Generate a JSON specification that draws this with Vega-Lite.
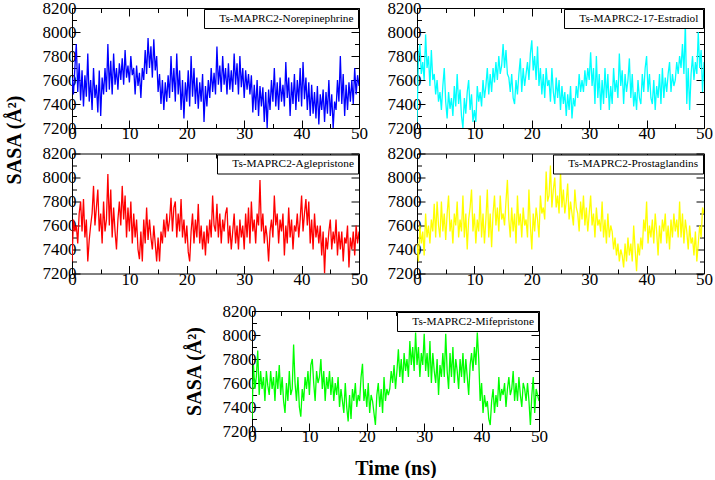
{
"$schema":"https://vega.github.io/schema/vega-lite/v6.json",
"padding":{"left":4,"top":-1,"right":0,"bottom":0},
"background":"white",
"config":{
 "view":{"stroke":null},
 "line":{"strokeWidth":1.3},
 "axis":{"labelFont":"Liberation Serif","labelFontSize":17,"labelColor":"#000","tickColor":"#000","domainColor":"#000","tickWidth":1,"domainWidth":1,"grid":false,"titleFont":"Liberation Serif","titleFontSize":20,"titleFontWeight":"bold","titleColor":"#000","labelFlush":false,"labelOverlap":false,"labelBound":false,"labelPadding":4},
 "axisBottom":{"labelPadding":5.5},
 "legend":{"labelFont":"Liberation Serif","labelFontSize":11.3,"labelColor":"#000","strokeColor":"#000","fillColor":"#fff","strokeWidth":1,"padding":4,"orient":"top-right","offset":1,"symbolSize":0,"symbolOpacity":0,"symbolStrokeWidth":0,"labelOffset":0,"labelLimit":0,"cornerRadius":0}
},
"datasets":{
"a":[{"t":0,"v":7620},{"t":0.25,"v":7480},{"t":0.5,"v":7700},{"t":0.75,"v":7900},{"t":1,"v":7500},{"t":1.25,"v":7740},{"t":1.5,"v":7430},{"t":1.75,"v":7680},{"t":2,"v":7380},{"t":2.25,"v":7640},{"t":2.5,"v":7460},{"t":2.75,"v":7820},{"t":3,"v":7420},{"t":3.25,"v":7600},{"t":3.5,"v":7350},{"t":3.75,"v":7700},{"t":4,"v":7450},{"t":4.25,"v":7560},{"t":4.5,"v":7330},{"t":4.75,"v":7680},{"t":5,"v":7300},{"t":5.25,"v":7620},{"t":5.5,"v":7480},{"t":5.75,"v":7700},{"t":6,"v":7500},{"t":6.25,"v":7900},{"t":6.5,"v":7520},{"t":6.75,"v":7760},{"t":7,"v":7480},{"t":7.25,"v":7820},{"t":7.5,"v":7560},{"t":7.75,"v":7700},{"t":8,"v":7520},{"t":8.25,"v":7740},{"t":8.5,"v":7600},{"t":8.75,"v":7780},{"t":9,"v":7560},{"t":9.25,"v":7850},{"t":9.5,"v":7620},{"t":9.75,"v":7720},{"t":10,"v":7580},{"t":10.25,"v":7800},{"t":10.5,"v":7640},{"t":10.75,"v":7700},{"t":11,"v":7480},{"t":11.25,"v":7720},{"t":11.5,"v":7550},{"t":11.75,"v":7660},{"t":12,"v":7450},{"t":12.25,"v":7700},{"t":12.5,"v":7600},{"t":12.75,"v":7850},{"t":13,"v":7650},{"t":13.25,"v":7950},{"t":13.5,"v":7700},{"t":13.75,"v":7880},{"t":14,"v":7620},{"t":14.25,"v":7940},{"t":14.5,"v":7680},{"t":14.75,"v":7800},{"t":15,"v":7500},{"t":15.25,"v":7650},{"t":15.5,"v":7400},{"t":15.75,"v":7600},{"t":16,"v":7350},{"t":16.25,"v":7580},{"t":16.5,"v":7420},{"t":16.75,"v":7640},{"t":17,"v":7450},{"t":17.25,"v":7800},{"t":17.5,"v":7500},{"t":17.75,"v":7700},{"t":18,"v":7420},{"t":18.25,"v":7820},{"t":18.5,"v":7480},{"t":18.75,"v":7680},{"t":19,"v":7350},{"t":19.25,"v":7600},{"t":19.5,"v":7280},{"t":19.75,"v":7580},{"t":20,"v":7420},{"t":20.25,"v":7680},{"t":20.5,"v":7380},{"t":20.75,"v":7800},{"t":21,"v":7460},{"t":21.25,"v":7700},{"t":21.5,"v":7400},{"t":21.75,"v":7620},{"t":22,"v":7360},{"t":22.25,"v":7580},{"t":22.5,"v":7420},{"t":22.75,"v":7650},{"t":23,"v":7250},{"t":23.25,"v":7550},{"t":23.5,"v":7380},{"t":23.75,"v":7600},{"t":24,"v":7450},{"t":24.25,"v":7700},{"t":24.5,"v":7500},{"t":24.75,"v":7660},{"t":25,"v":7480},{"t":25.25,"v":7880},{"t":25.5,"v":7560},{"t":25.75,"v":7720},{"t":26,"v":7500},{"t":26.25,"v":7800},{"t":26.5,"v":7560},{"t":26.75,"v":7700},{"t":27,"v":7480},{"t":27.25,"v":7740},{"t":27.5,"v":7520},{"t":27.75,"v":7680},{"t":28,"v":7500},{"t":28.25,"v":7820},{"t":28.5,"v":7560},{"t":28.75,"v":7740},{"t":29,"v":7480},{"t":29.25,"v":7800},{"t":29.5,"v":7540},{"t":29.75,"v":7700},{"t":30,"v":7450},{"t":30.25,"v":7680},{"t":30.5,"v":7520},{"t":30.75,"v":7650},{"t":31,"v":7480},{"t":31.25,"v":7640},{"t":31.5,"v":7330},{"t":31.75,"v":7560},{"t":32,"v":7350},{"t":32.25,"v":7600},{"t":32.5,"v":7300},{"t":32.75,"v":7550},{"t":33,"v":7380},{"t":33.25,"v":7540},{"t":33.5,"v":7250},{"t":33.75,"v":7500},{"t":34,"v":7200},{"t":34.25,"v":7520},{"t":34.5,"v":7350},{"t":34.75,"v":7600},{"t":35,"v":7420},{"t":35.25,"v":7700},{"t":35.5,"v":7380},{"t":35.75,"v":7580},{"t":36,"v":7350},{"t":36.25,"v":7620},{"t":36.5,"v":7420},{"t":36.75,"v":7560},{"t":37,"v":7380},{"t":37.25,"v":7750},{"t":37.5,"v":7450},{"t":37.75,"v":7620},{"t":38,"v":7300},{"t":38.25,"v":7580},{"t":38.5,"v":7400},{"t":38.75,"v":7650},{"t":39,"v":7350},{"t":39.25,"v":7600},{"t":39.5,"v":7420},{"t":39.75,"v":7700},{"t":40,"v":7380},{"t":40.25,"v":7750},{"t":40.5,"v":7440},{"t":40.75,"v":7620},{"t":41,"v":7350},{"t":41.25,"v":7580},{"t":41.5,"v":7300},{"t":41.75,"v":7560},{"t":42,"v":7320},{"t":42.25,"v":7500},{"t":42.5,"v":7280},{"t":42.75,"v":7550},{"t":43,"v":7230},{"t":43.25,"v":7480},{"t":43.5,"v":7350},{"t":43.75,"v":7520},{"t":44,"v":7250},{"t":44.25,"v":7500},{"t":44.5,"v":7320},{"t":44.75,"v":7600},{"t":45,"v":7300},{"t":45.25,"v":7480},{"t":45.5,"v":7200},{"t":45.75,"v":7420},{"t":46,"v":7350},{"t":46.25,"v":7600},{"t":46.5,"v":7420},{"t":46.75,"v":7800},{"t":47,"v":7400},{"t":47.25,"v":7650},{"t":47.5,"v":7300},{"t":47.75,"v":7560},{"t":48,"v":7350},{"t":48.25,"v":7580},{"t":48.5,"v":7420},{"t":48.75,"v":7600},{"t":49,"v":7400},{"t":49.25,"v":7700},{"t":49.5,"v":7480},{"t":49.75,"v":7640},{"t":50,"v":7550}],
"b":[{"t":0,"v":7250},{"t":0.25,"v":7800},{"t":0.5,"v":7900},{"t":0.75,"v":7650},{"t":1,"v":7750},{"t":1.25,"v":7600},{"t":1.5,"v":7980},{"t":1.75,"v":7700},{"t":2,"v":7800},{"t":2.25,"v":7550},{"t":2.5,"v":7850},{"t":2.75,"v":7600},{"t":3,"v":7650},{"t":3.25,"v":7480},{"t":3.5,"v":7600},{"t":3.75,"v":7420},{"t":4,"v":7500},{"t":4.25,"v":7350},{"t":4.5,"v":7550},{"t":4.75,"v":7700},{"t":5,"v":7420},{"t":5.25,"v":7280},{"t":5.5,"v":7500},{"t":5.75,"v":7360},{"t":6,"v":7450},{"t":6.25,"v":7300},{"t":6.5,"v":7550},{"t":6.75,"v":7380},{"t":7,"v":7650},{"t":7.25,"v":7400},{"t":7.5,"v":7520},{"t":7.75,"v":7300},{"t":8,"v":7200},{"t":8.25,"v":7450},{"t":8.5,"v":7320},{"t":8.75,"v":7500},{"t":9,"v":7600},{"t":9.25,"v":7350},{"t":9.5,"v":7480},{"t":9.75,"v":7250},{"t":10,"v":7350},{"t":10.25,"v":7250},{"t":10.5,"v":7550},{"t":10.75,"v":7420},{"t":11,"v":7500},{"t":11.25,"v":7380},{"t":11.5,"v":7600},{"t":11.75,"v":7450},{"t":12,"v":7550},{"t":12.25,"v":7700},{"t":12.5,"v":7480},{"t":12.75,"v":7650},{"t":13,"v":7500},{"t":13.25,"v":7700},{"t":13.5,"v":7580},{"t":13.75,"v":7750},{"t":14,"v":7600},{"t":14.25,"v":7800},{"t":14.5,"v":7650},{"t":14.75,"v":7720},{"t":15,"v":7900},{"t":15.25,"v":7700},{"t":15.5,"v":7850},{"t":15.75,"v":7650},{"t":16,"v":7620},{"t":16.25,"v":7500},{"t":16.5,"v":7650},{"t":16.75,"v":7450},{"t":17,"v":7400},{"t":17.25,"v":7600},{"t":17.5,"v":7480},{"t":17.75,"v":7650},{"t":18,"v":7780},{"t":18.25,"v":7500},{"t":18.5,"v":7700},{"t":18.75,"v":7550},{"t":19,"v":7650},{"t":19.25,"v":7750},{"t":19.5,"v":7600},{"t":19.75,"v":7820},{"t":20,"v":7930},{"t":20.25,"v":7680},{"t":20.5,"v":7800},{"t":20.75,"v":7600},{"t":21,"v":7880},{"t":21.25,"v":7550},{"t":21.5,"v":7700},{"t":21.75,"v":7480},{"t":22,"v":7650},{"t":22.25,"v":7450},{"t":22.5,"v":7700},{"t":22.75,"v":7550},{"t":23,"v":7600},{"t":23.25,"v":7420},{"t":23.5,"v":7700},{"t":23.75,"v":7500},{"t":24,"v":7400},{"t":24.25,"v":7620},{"t":24.5,"v":7450},{"t":24.75,"v":7600},{"t":25,"v":7350},{"t":25.25,"v":7550},{"t":25.5,"v":7400},{"t":25.75,"v":7500},{"t":26,"v":7300},{"t":26.25,"v":7480},{"t":26.5,"v":7350},{"t":26.75,"v":7550},{"t":27,"v":7280},{"t":27.25,"v":7450},{"t":27.5,"v":7380},{"t":27.75,"v":7550},{"t":28,"v":7450},{"t":28.25,"v":7650},{"t":28.5,"v":7500},{"t":28.75,"v":7600},{"t":29,"v":7500},{"t":29.25,"v":7680},{"t":29.5,"v":7550},{"t":29.75,"v":7700},{"t":30,"v":7600},{"t":30.25,"v":7830},{"t":30.5,"v":7550},{"t":30.75,"v":7700},{"t":31,"v":7400},{"t":31.25,"v":7800},{"t":31.5,"v":7450},{"t":31.75,"v":7650},{"t":32,"v":7350},{"t":32.25,"v":7600},{"t":32.5,"v":7400},{"t":32.75,"v":7700},{"t":33,"v":7450},{"t":33.25,"v":7650},{"t":33.5,"v":7350},{"t":33.75,"v":7550},{"t":34,"v":7400},{"t":34.25,"v":7700},{"t":34.5,"v":7500},{"t":34.75,"v":7600},{"t":35,"v":7450},{"t":35.25,"v":7820},{"t":35.5,"v":7550},{"t":35.75,"v":7680},{"t":36,"v":7400},{"t":36.25,"v":7650},{"t":36.5,"v":7500},{"t":36.75,"v":7600},{"t":37,"v":7780},{"t":37.25,"v":7450},{"t":37.5,"v":7650},{"t":37.75,"v":7380},{"t":38,"v":7500},{"t":38.25,"v":7350},{"t":38.5,"v":7600},{"t":38.75,"v":7450},{"t":39,"v":7400},{"t":39.25,"v":7650},{"t":39.5,"v":7500},{"t":39.75,"v":7700},{"t":40,"v":7800},{"t":40.25,"v":7500},{"t":40.5,"v":7650},{"t":40.75,"v":7450},{"t":41,"v":7400},{"t":41.25,"v":7600},{"t":41.5,"v":7350},{"t":41.75,"v":7550},{"t":42,"v":7450},{"t":42.25,"v":7650},{"t":42.5,"v":7400},{"t":42.75,"v":7700},{"t":43,"v":7450},{"t":43.25,"v":7620},{"t":43.5,"v":7500},{"t":43.75,"v":7650},{"t":44,"v":7750},{"t":44.25,"v":7500},{"t":44.5,"v":7650},{"t":44.75,"v":7550},{"t":45,"v":7600},{"t":45.25,"v":7750},{"t":45.5,"v":7650},{"t":45.75,"v":7800},{"t":46,"v":7700},{"t":46.25,"v":7900},{"t":46.5,"v":7650},{"t":46.75,"v":8080},{"t":47,"v":7400},{"t":47.25,"v":7700},{"t":47.5,"v":7350},{"t":47.75,"v":7650},{"t":48,"v":7800},{"t":48.25,"v":7600},{"t":48.5,"v":7750},{"t":48.75,"v":7650},{"t":49,"v":8000},{"t":49.25,"v":7700},{"t":49.5,"v":7850},{"t":49.75,"v":7500},{"t":50,"v":7750}],
"c":[{"t":0,"v":7300},{"t":0.25,"v":7650},{"t":0.5,"v":7550},{"t":0.75,"v":7600},{"t":1,"v":7450},{"t":1.25,"v":7700},{"t":1.5,"v":7800},{"t":1.75,"v":7550},{"t":2,"v":7820},{"t":2.25,"v":7500},{"t":2.5,"v":7650},{"t":2.75,"v":7300},{"t":3,"v":7480},{"t":3.25,"v":7600},{"t":3.5,"v":7700},{"t":3.75,"v":7930},{"t":4,"v":7600},{"t":4.25,"v":7750},{"t":4.5,"v":7900},{"t":4.75,"v":7550},{"t":5,"v":7700},{"t":5.25,"v":7450},{"t":5.5,"v":7800},{"t":5.75,"v":7550},{"t":6,"v":7650},{"t":6.25,"v":8030},{"t":6.5,"v":7600},{"t":6.75,"v":7900},{"t":7,"v":7500},{"t":7.25,"v":7750},{"t":7.5,"v":7550},{"t":7.75,"v":7400},{"t":8,"v":7650},{"t":8.25,"v":7800},{"t":8.5,"v":7600},{"t":8.75,"v":7930},{"t":9,"v":7650},{"t":9.25,"v":7850},{"t":9.5,"v":7500},{"t":9.75,"v":7750},{"t":10,"v":7550},{"t":10.25,"v":7800},{"t":10.5,"v":7450},{"t":10.75,"v":7700},{"t":11,"v":7500},{"t":11.25,"v":7650},{"t":11.5,"v":7400},{"t":11.75,"v":7320},{"t":12,"v":7550},{"t":12.25,"v":7300},{"t":12.5,"v":7650},{"t":12.75,"v":7450},{"t":13,"v":7750},{"t":13.25,"v":7480},{"t":13.5,"v":7650},{"t":13.75,"v":7500},{"t":14,"v":7400},{"t":14.25,"v":7600},{"t":14.5,"v":7450},{"t":14.75,"v":7300},{"t":15,"v":7500},{"t":15.25,"v":7300},{"t":15.5,"v":7550},{"t":15.75,"v":7450},{"t":16,"v":7650},{"t":16.25,"v":7500},{"t":16.5,"v":7700},{"t":16.75,"v":7550},{"t":17,"v":7650},{"t":17.25,"v":7830},{"t":17.5,"v":7550},{"t":17.75,"v":7750},{"t":18,"v":7800},{"t":18.25,"v":7500},{"t":18.5,"v":7700},{"t":18.75,"v":7550},{"t":19,"v":7820},{"t":19.25,"v":7500},{"t":19.5,"v":7650},{"t":19.75,"v":7450},{"t":20,"v":7600},{"t":20.25,"v":7380},{"t":20.5,"v":7300},{"t":20.75,"v":7550},{"t":21,"v":7700},{"t":21.25,"v":7450},{"t":21.5,"v":7650},{"t":21.75,"v":7500},{"t":22,"v":7780},{"t":22.25,"v":7450},{"t":22.5,"v":7600},{"t":22.75,"v":7400},{"t":23,"v":7550},{"t":23.25,"v":7350},{"t":23.5,"v":7600},{"t":23.75,"v":7450},{"t":24,"v":7650},{"t":24.25,"v":7500},{"t":24.5,"v":7850},{"t":24.75,"v":7600},{"t":25,"v":7550},{"t":25.25,"v":7780},{"t":25.5,"v":7500},{"t":25.75,"v":7700},{"t":26,"v":7450},{"t":26.25,"v":7650},{"t":26.5,"v":7550},{"t":26.75,"v":7700},{"t":27,"v":7750},{"t":27.25,"v":7450},{"t":27.5,"v":7600},{"t":27.75,"v":7400},{"t":28,"v":7550},{"t":28.25,"v":7700},{"t":28.5,"v":7450},{"t":28.75,"v":7600},{"t":29,"v":7400},{"t":29.25,"v":7650},{"t":29.5,"v":7500},{"t":29.75,"v":7600},{"t":30,"v":7400},{"t":30.25,"v":7700},{"t":30.5,"v":7500},{"t":30.75,"v":7750},{"t":31,"v":7450},{"t":31.25,"v":7800},{"t":31.5,"v":7550},{"t":31.75,"v":7650},{"t":32,"v":7450},{"t":32.25,"v":7700},{"t":32.5,"v":7600},{"t":32.75,"v":7980},{"t":33,"v":7550},{"t":33.25,"v":7700},{"t":33.5,"v":7450},{"t":33.75,"v":7600},{"t":34,"v":7500},{"t":34.25,"v":7300},{"t":34.5,"v":7550},{"t":34.75,"v":7650},{"t":35,"v":7500},{"t":35.25,"v":7850},{"t":35.5,"v":7600},{"t":35.75,"v":7700},{"t":36,"v":7450},{"t":36.25,"v":7650},{"t":36.5,"v":7550},{"t":36.75,"v":7700},{"t":37,"v":7350},{"t":37.25,"v":7600},{"t":37.5,"v":7450},{"t":37.75,"v":7750},{"t":38,"v":7500},{"t":38.25,"v":7650},{"t":38.5,"v":7400},{"t":38.75,"v":7600},{"t":39,"v":7550},{"t":39.25,"v":7700},{"t":39.5,"v":7500},{"t":39.75,"v":7650},{"t":40,"v":7850},{"t":40.25,"v":7550},{"t":40.5,"v":7700},{"t":40.75,"v":7820},{"t":41,"v":7600},{"t":41.25,"v":7800},{"t":41.5,"v":7450},{"t":41.75,"v":7650},{"t":42,"v":7400},{"t":42.25,"v":7700},{"t":42.5,"v":7500},{"t":42.75,"v":7600},{"t":43,"v":7450},{"t":43.25,"v":7600},{"t":43.5,"v":7350},{"t":43.75,"v":7550},{"t":44,"v":7200},{"t":44.25,"v":7500},{"t":44.5,"v":7400},{"t":44.75,"v":7550},{"t":45,"v":7650},{"t":45.25,"v":7400},{"t":45.5,"v":7550},{"t":45.75,"v":7450},{"t":46,"v":7650},{"t":46.25,"v":7350},{"t":46.5,"v":7550},{"t":46.75,"v":7400},{"t":47,"v":7550},{"t":47.25,"v":7300},{"t":47.5,"v":7500},{"t":47.75,"v":7450},{"t":48,"v":7600},{"t":48.25,"v":7250},{"t":48.5,"v":7500},{"t":48.75,"v":7400},{"t":49,"v":7550},{"t":49.25,"v":7350},{"t":49.5,"v":7600},{"t":49.75,"v":7450},{"t":50,"v":7550}],
"d":[{"t":0,"v":7450},{"t":0.25,"v":7300},{"t":0.5,"v":7600},{"t":0.75,"v":7450},{"t":1,"v":7550},{"t":1.25,"v":7350},{"t":1.5,"v":7700},{"t":1.75,"v":7500},{"t":2,"v":7600},{"t":2.25,"v":7450},{"t":2.5,"v":7650},{"t":2.75,"v":7550},{"t":3,"v":7780},{"t":3.25,"v":7500},{"t":3.5,"v":7800},{"t":3.75,"v":7600},{"t":4,"v":7500},{"t":4.25,"v":7800},{"t":4.5,"v":7550},{"t":4.75,"v":7700},{"t":5,"v":7480},{"t":5.25,"v":7700},{"t":5.5,"v":7850},{"t":5.75,"v":7550},{"t":6,"v":7650},{"t":6.25,"v":7450},{"t":6.5,"v":7700},{"t":6.75,"v":7600},{"t":7,"v":7800},{"t":7.25,"v":7500},{"t":7.5,"v":7650},{"t":7.75,"v":7550},{"t":8,"v":7850},{"t":8.25,"v":7500},{"t":8.5,"v":7700},{"t":8.75,"v":7400},{"t":9,"v":7650},{"t":9.25,"v":7750},{"t":9.5,"v":7900},{"t":9.75,"v":7550},{"t":10,"v":7700},{"t":10.25,"v":7450},{"t":10.5,"v":7650},{"t":10.75,"v":7550},{"t":11,"v":7850},{"t":11.25,"v":7500},{"t":11.5,"v":7700},{"t":11.75,"v":7450},{"t":12,"v":7650},{"t":12.25,"v":7900},{"t":12.5,"v":7500},{"t":12.75,"v":7700},{"t":13,"v":7420},{"t":13.25,"v":7700},{"t":13.5,"v":7850},{"t":13.75,"v":7600},{"t":14,"v":7750},{"t":14.25,"v":7550},{"t":14.5,"v":7850},{"t":14.75,"v":7650},{"t":15,"v":7700},{"t":15.25,"v":7600},{"t":15.5,"v":7800},{"t":15.75,"v":7980},{"t":16,"v":7650},{"t":16.25,"v":7500},{"t":16.5,"v":7750},{"t":16.75,"v":7550},{"t":17,"v":7700},{"t":17.25,"v":7450},{"t":17.5,"v":7850},{"t":17.75,"v":7600},{"t":18,"v":7700},{"t":18.25,"v":7500},{"t":18.5,"v":7750},{"t":18.75,"v":7600},{"t":19,"v":7650},{"t":19.25,"v":7500},{"t":19.5,"v":7900},{"t":19.75,"v":7600},{"t":20,"v":7400},{"t":20.25,"v":7700},{"t":20.5,"v":7550},{"t":20.75,"v":7750},{"t":21,"v":7650},{"t":21.25,"v":7500},{"t":21.5,"v":7850},{"t":21.75,"v":7700},{"t":22,"v":7750},{"t":22.25,"v":7650},{"t":22.5,"v":8050},{"t":22.75,"v":7800},{"t":23,"v":7850},{"t":23.25,"v":8100},{"t":23.5,"v":7750},{"t":23.75,"v":7900},{"t":24,"v":8000},{"t":24.25,"v":7750},{"t":24.5,"v":7850},{"t":24.75,"v":7700},{"t":25,"v":8050},{"t":25.25,"v":7750},{"t":25.5,"v":7900},{"t":25.75,"v":7700},{"t":26,"v":7800},{"t":26.25,"v":7950},{"t":26.5,"v":7650},{"t":26.75,"v":7800},{"t":27,"v":7700},{"t":27.25,"v":7600},{"t":27.5,"v":7900},{"t":27.75,"v":7750},{"t":28,"v":7700},{"t":28.25,"v":7550},{"t":28.5,"v":7800},{"t":28.75,"v":7650},{"t":29,"v":7850},{"t":29.25,"v":7600},{"t":29.5,"v":7750},{"t":29.75,"v":7550},{"t":30,"v":7700},{"t":30.25,"v":7850},{"t":30.5,"v":7600},{"t":30.75,"v":7700},{"t":31,"v":7500},{"t":31.25,"v":7750},{"t":31.5,"v":7600},{"t":31.75,"v":7650},{"t":32,"v":7550},{"t":32.25,"v":7800},{"t":32.5,"v":7500},{"t":32.75,"v":7650},{"t":33,"v":7450},{"t":33.25,"v":7700},{"t":33.5,"v":7500},{"t":33.75,"v":7600},{"t":34,"v":7550},{"t":34.25,"v":7400},{"t":34.5,"v":7500},{"t":34.75,"v":7350},{"t":35,"v":7450},{"t":35.25,"v":7300},{"t":35.5,"v":7400},{"t":35.75,"v":7350},{"t":36,"v":7250},{"t":36.25,"v":7450},{"t":36.5,"v":7300},{"t":36.75,"v":7500},{"t":37,"v":7350},{"t":37.25,"v":7450},{"t":37.5,"v":7300},{"t":37.75,"v":7600},{"t":38,"v":7400},{"t":38.25,"v":7220},{"t":38.5,"v":7450},{"t":38.75,"v":7350},{"t":39,"v":7500},{"t":39.25,"v":7400},{"t":39.5,"v":7650},{"t":39.75,"v":7550},{"t":40,"v":7800},{"t":40.25,"v":7450},{"t":40.5,"v":7600},{"t":40.75,"v":7500},{"t":41,"v":7650},{"t":41.25,"v":7450},{"t":41.5,"v":7700},{"t":41.75,"v":7550},{"t":42,"v":7350},{"t":42.25,"v":7600},{"t":42.5,"v":7450},{"t":42.75,"v":7650},{"t":43,"v":7550},{"t":43.25,"v":7700},{"t":43.5,"v":7450},{"t":43.75,"v":7600},{"t":44,"v":7400},{"t":44.25,"v":7650},{"t":44.5,"v":7500},{"t":44.75,"v":7700},{"t":45,"v":7550},{"t":45.25,"v":7650},{"t":45.5,"v":7500},{"t":45.75,"v":7800},{"t":46,"v":7500},{"t":46.25,"v":7700},{"t":46.5,"v":7450},{"t":46.75,"v":7650},{"t":47,"v":7550},{"t":47.25,"v":7400},{"t":47.5,"v":7600},{"t":47.75,"v":7450},{"t":48,"v":7500},{"t":48.25,"v":7350},{"t":48.5,"v":7550},{"t":48.75,"v":7300},{"t":49,"v":7450},{"t":49.25,"v":7600},{"t":49.5,"v":7500},{"t":49.75,"v":7750},{"t":50,"v":7700}],
"e":[{"t":0,"v":7300},{"t":0.25,"v":7750},{"t":0.5,"v":7550},{"t":0.75,"v":7650},{"t":1,"v":7870},{"t":1.25,"v":7500},{"t":1.5,"v":7700},{"t":1.75,"v":7550},{"t":2,"v":7650},{"t":2.25,"v":7450},{"t":2.5,"v":7700},{"t":2.75,"v":7580},{"t":3,"v":7500},{"t":3.25,"v":7700},{"t":3.5,"v":7550},{"t":3.75,"v":7650},{"t":4,"v":7450},{"t":4.25,"v":7700},{"t":4.5,"v":7550},{"t":4.75,"v":7750},{"t":5,"v":7500},{"t":5.25,"v":7650},{"t":5.5,"v":7450},{"t":5.75,"v":7350},{"t":6,"v":7600},{"t":6.25,"v":7450},{"t":6.5,"v":7700},{"t":6.75,"v":7500},{"t":7,"v":7550},{"t":7.25,"v":7920},{"t":7.5,"v":7600},{"t":7.75,"v":7450},{"t":8,"v":7650},{"t":8.25,"v":7400},{"t":8.5,"v":7320},{"t":8.75,"v":7550},{"t":9,"v":7450},{"t":9.25,"v":7650},{"t":9.5,"v":7550},{"t":9.75,"v":7700},{"t":10,"v":7500},{"t":10.25,"v":7750},{"t":10.5,"v":7800},{"t":10.75,"v":7600},{"t":11,"v":7450},{"t":11.25,"v":7700},{"t":11.5,"v":7600},{"t":11.75,"v":7650},{"t":12,"v":7800},{"t":12.25,"v":7550},{"t":12.5,"v":7700},{"t":12.75,"v":7450},{"t":13,"v":7650},{"t":13.25,"v":7550},{"t":13.5,"v":7700},{"t":13.75,"v":7500},{"t":14,"v":7650},{"t":14.25,"v":7450},{"t":14.5,"v":7600},{"t":14.75,"v":7500},{"t":15,"v":7650},{"t":15.25,"v":7400},{"t":15.5,"v":7550},{"t":15.75,"v":7450},{"t":16,"v":7350},{"t":16.25,"v":7600},{"t":16.5,"v":7400},{"t":16.75,"v":7280},{"t":17,"v":7500},{"t":17.25,"v":7300},{"t":17.5,"v":7550},{"t":17.75,"v":7450},{"t":18,"v":7600},{"t":18.25,"v":7400},{"t":18.5,"v":7500},{"t":18.75,"v":7450},{"t":19,"v":7650},{"t":19.25,"v":7760},{"t":19.5,"v":7450},{"t":19.75,"v":7550},{"t":20,"v":7400},{"t":20.25,"v":7600},{"t":20.5,"v":7350},{"t":20.75,"v":7500},{"t":21,"v":7450},{"t":21.25,"v":7350},{"t":21.5,"v":7250},{"t":21.75,"v":7500},{"t":22,"v":7600},{"t":22.25,"v":7400},{"t":22.5,"v":7550},{"t":22.75,"v":7350},{"t":23,"v":7650},{"t":23.25,"v":7450},{"t":23.5,"v":7550},{"t":23.75,"v":7500},{"t":24,"v":7550},{"t":24.25,"v":7700},{"t":24.5,"v":7600},{"t":24.75,"v":7750},{"t":25,"v":7550},{"t":25.25,"v":7700},{"t":25.5,"v":7880},{"t":25.75,"v":7650},{"t":26,"v":7800},{"t":26.25,"v":7600},{"t":26.5,"v":7850},{"t":26.75,"v":7700},{"t":27,"v":7800},{"t":27.25,"v":7650},{"t":27.5,"v":7950},{"t":27.75,"v":7750},{"t":28,"v":7900},{"t":28.25,"v":7700},{"t":28.5,"v":8020},{"t":28.75,"v":7750},{"t":29,"v":7900},{"t":29.25,"v":7650},{"t":29.5,"v":7850},{"t":29.75,"v":7750},{"t":30,"v":8010},{"t":30.25,"v":7700},{"t":30.5,"v":7850},{"t":30.75,"v":7650},{"t":31,"v":7950},{"t":31.25,"v":7600},{"t":31.5,"v":7850},{"t":31.75,"v":7700},{"t":32,"v":7600},{"t":32.25,"v":7800},{"t":32.5,"v":7500},{"t":32.75,"v":7750},{"t":33,"v":7650},{"t":33.25,"v":7850},{"t":33.5,"v":7650},{"t":33.75,"v":8010},{"t":34,"v":7700},{"t":34.25,"v":7550},{"t":34.5,"v":7850},{"t":34.75,"v":7650},{"t":35,"v":7900},{"t":35.25,"v":7600},{"t":35.5,"v":7800},{"t":35.75,"v":7700},{"t":36,"v":7550},{"t":36.25,"v":7800},{"t":36.5,"v":7650},{"t":36.75,"v":7850},{"t":37,"v":7600},{"t":37.25,"v":7800},{"t":37.5,"v":7650},{"t":37.75,"v":7500},{"t":38,"v":7750},{"t":38.25,"v":7850},{"t":38.5,"v":7700},{"t":38.75,"v":7900},{"t":39,"v":7750},{"t":39.25,"v":8020},{"t":39.5,"v":7800},{"t":39.75,"v":7450},{"t":40,"v":7600},{"t":40.25,"v":7350},{"t":40.5,"v":7500},{"t":40.75,"v":7400},{"t":41,"v":7450},{"t":41.25,"v":7300},{"t":41.5,"v":7250},{"t":41.75,"v":7450},{"t":42,"v":7550},{"t":42.25,"v":7350},{"t":42.5,"v":7500},{"t":42.75,"v":7400},{"t":43,"v":7650},{"t":43.25,"v":7450},{"t":43.5,"v":7550},{"t":43.75,"v":7500},{"t":44,"v":7600},{"t":44.25,"v":7400},{"t":44.5,"v":7550},{"t":44.75,"v":7650},{"t":45,"v":7500},{"t":45.25,"v":7550},{"t":45.5,"v":7700},{"t":45.75,"v":7450},{"t":46,"v":7600},{"t":46.25,"v":7450},{"t":46.5,"v":7650},{"t":46.75,"v":7500},{"t":47,"v":7400},{"t":47.25,"v":7600},{"t":47.5,"v":7550},{"t":47.75,"v":7450},{"t":48,"v":7600},{"t":48.25,"v":7450},{"t":48.5,"v":7250},{"t":48.75,"v":7500},{"t":49,"v":7650},{"t":49.25,"v":7350},{"t":49.5,"v":7550},{"t":49.75,"v":7500},{"t":50,"v":7450}]
},
"vconcat":[
 {"concat":[
   {"width":287,"height":120,"data":{"name":"a"},
    "layer":[
     {"mark":{"type":"line","clip":true},
      "encoding":{
       "x":{"field":"t","type":"quantitative","scale":{"domain":[0,50],"nice":false,"zero":false},"axis":{"orient":"bottom","values":[0,10,20,30,40,50],"format":"d","tickSize":-8,"title":null}},
       "y":{"field":"v","type":"quantitative","scale":{"domain":[7200,8200],"nice":false,"zero":false},"axis":{"orient":"left","values":[7200,7400,7600,7800,8000,8200],"format":"d","tickSize":-8,"title":null}},
       "color":{"datum":"Ts-MAPRC2-Norepinephrine","type":"nominal","scale":{"range":["#0000ff"]},"legend":{"title":null}}}},
     {"mark":{"type":"line","opacity":0},
      "encoding":{
       "x":{"field":"t","type":"quantitative","axis":{"orient":"top","values":[0,10,20,30,40,50],"tickSize":-8,"labels":false,"title":null}},
       "y":{"field":"v","type":"quantitative","axis":{"orient":"right","values":[7200,7400,7600,7800,8000,8200],"tickSize":-8,"labels":false,"title":null}}}},
     {"mark":{"type":"line","opacity":0},
      "encoding":{
       "x":{"field":"t","type":"quantitative","axis":{"orient":"bottom","values":[5,15,25,35,45],"tickSize":-4.5,"labels":false,"domain":false,"title":null}},
       "y":{"field":"v","type":"quantitative","axis":{"orient":"left","values":[7300,7500,7700,7900,8100],"tickSize":-4.5,"labels":false,"domain":false,"title":null}}}},
     {"mark":{"type":"line","opacity":0},
      "encoding":{
       "x":{"field":"t","type":"quantitative","axis":{"orient":"top","values":[5,15,25,35,45],"tickSize":-4.5,"labels":false,"domain":false,"title":null}},
       "y":{"field":"v","type":"quantitative","axis":{"orient":"right","values":[7300,7500,7700,7900,8100],"tickSize":-4.5,"labels":false,"domain":false,"title":null}}}}
    ],
    "resolve":{"axis":{"x":"independent","y":"independent"}}},
   {"width":287,"height":120,"data":{"name":"b"},
    "layer":[
     {"mark":{"type":"line","clip":true},
      "encoding":{
       "x":{"field":"t","type":"quantitative","scale":{"domain":[0,50],"nice":false,"zero":false},"axis":{"orient":"bottom","values":[0,10,20,30,40,50],"format":"d","tickSize":-8,"title":null}},
       "y":{"field":"v","type":"quantitative","scale":{"domain":[7200,8200],"nice":false,"zero":false},"axis":{"orient":"left","values":[7200,7400,7600,7800,8000,8200],"format":"d","tickSize":-8,"title":null}},
       "color":{"datum":"Ts-MAPRC2-17-Estradiol","type":"nominal","scale":{"range":["#00ffff"]},"legend":{"title":null}}}},
     {"mark":{"type":"line","opacity":0},
      "encoding":{
       "x":{"field":"t","type":"quantitative","axis":{"orient":"top","values":[0,10,20,30,40,50],"tickSize":-8,"labels":false,"title":null}},
       "y":{"field":"v","type":"quantitative","axis":{"orient":"right","values":[7200,7400,7600,7800,8000,8200],"tickSize":-8,"labels":false,"title":null}}}},
     {"mark":{"type":"line","opacity":0},
      "encoding":{
       "x":{"field":"t","type":"quantitative","axis":{"orient":"bottom","values":[5,15,25,35,45],"tickSize":-4.5,"labels":false,"domain":false,"title":null}},
       "y":{"field":"v","type":"quantitative","axis":{"orient":"left","values":[7300,7500,7700,7900,8100],"tickSize":-4.5,"labels":false,"domain":false,"title":null}}}},
     {"mark":{"type":"line","opacity":0},
      "encoding":{
       "x":{"field":"t","type":"quantitative","axis":{"orient":"top","values":[5,15,25,35,45],"tickSize":-4.5,"labels":false,"domain":false,"title":null}},
       "y":{"field":"v","type":"quantitative","axis":{"orient":"right","values":[7300,7500,7700,7900,8100],"tickSize":-4.5,"labels":false,"domain":false,"title":null}}}}
    ],
    "resolve":{"axis":{"x":"independent","y":"independent"}}},
   {"width":287,"height":120,"data":{"name":"c"},
    "layer":[
     {"mark":{"type":"line","clip":true},
      "encoding":{
       "x":{"field":"t","type":"quantitative","scale":{"domain":[0,50],"nice":false,"zero":false},"axis":{"orient":"bottom","values":[0,10,20,30,40,50],"format":"d","tickSize":-8,"title":null}},
       "y":{"field":"v","type":"quantitative","scale":{"domain":[7200,8200],"nice":false,"zero":false},"axis":{"orient":"left","values":[7200,7400,7600,7800,8000,8200],"format":"d","tickSize":-8,"title":"SASA (Å²)","titleX":-58,"titleY":-14,"titleBaseline":"middle","titleAngle":270}},
       "color":{"datum":"Ts-MAPRC2-Aglepristone","type":"nominal","scale":{"range":["#ff0000"]},"legend":{"title":null}}}},
     {"mark":{"type":"line","opacity":0},
      "encoding":{
       "x":{"field":"t","type":"quantitative","axis":{"orient":"top","values":[0,10,20,30,40,50],"tickSize":-8,"labels":false,"title":null}},
       "y":{"field":"v","type":"quantitative","axis":{"orient":"right","values":[7200,7400,7600,7800,8000,8200],"tickSize":-8,"labels":false,"title":null}}}},
     {"mark":{"type":"line","opacity":0},
      "encoding":{
       "x":{"field":"t","type":"quantitative","axis":{"orient":"bottom","values":[5,15,25,35,45],"tickSize":-4.5,"labels":false,"domain":false,"title":null}},
       "y":{"field":"v","type":"quantitative","axis":{"orient":"left","values":[7300,7500,7700,7900,8100],"tickSize":-4.5,"labels":false,"domain":false,"title":null}}}},
     {"mark":{"type":"line","opacity":0},
      "encoding":{
       "x":{"field":"t","type":"quantitative","axis":{"orient":"top","values":[5,15,25,35,45],"tickSize":-4.5,"labels":false,"domain":false,"title":null}},
       "y":{"field":"v","type":"quantitative","axis":{"orient":"right","values":[7300,7500,7700,7900,8100],"tickSize":-4.5,"labels":false,"domain":false,"title":null}}}}
    ],
    "resolve":{"axis":{"x":"independent","y":"independent"}}},
   {"width":287,"height":120,"data":{"name":"d"},
    "layer":[
     {"mark":{"type":"line","clip":true},
      "encoding":{
       "x":{"field":"t","type":"quantitative","scale":{"domain":[0,50],"nice":false,"zero":false},"axis":{"orient":"bottom","values":[0,10,20,30,40,50],"format":"d","tickSize":-8,"title":null}},
       "y":{"field":"v","type":"quantitative","scale":{"domain":[7200,8200],"nice":false,"zero":false},"axis":{"orient":"left","values":[7200,7400,7600,7800,8000,8200],"format":"d","tickSize":-8,"title":null}},
       "color":{"datum":"Ts-MAPRC2-Prostaglandins","type":"nominal","scale":{"range":["#ffff00"]},"legend":{"title":null}}}},
     {"mark":{"type":"line","opacity":0},
      "encoding":{
       "x":{"field":"t","type":"quantitative","axis":{"orient":"top","values":[0,10,20,30,40,50],"tickSize":-8,"labels":false,"title":null}},
       "y":{"field":"v","type":"quantitative","axis":{"orient":"right","values":[7200,7400,7600,7800,8000,8200],"tickSize":-8,"labels":false,"title":null}}}},
     {"mark":{"type":"line","opacity":0},
      "encoding":{
       "x":{"field":"t","type":"quantitative","axis":{"orient":"bottom","values":[5,15,25,35,45],"tickSize":-4.5,"labels":false,"domain":false,"title":null}},
       "y":{"field":"v","type":"quantitative","axis":{"orient":"left","values":[7300,7500,7700,7900,8100],"tickSize":-4.5,"labels":false,"domain":false,"title":null}}}},
     {"mark":{"type":"line","opacity":0},
      "encoding":{
       "x":{"field":"t","type":"quantitative","axis":{"orient":"top","values":[5,15,25,35,45],"tickSize":-4.5,"labels":false,"domain":false,"title":null}},
       "y":{"field":"v","type":"quantitative","axis":{"orient":"right","values":[7300,7500,7700,7900,8100],"tickSize":-4.5,"labels":false,"domain":false,"title":null}}}}
    ],
    "resolve":{"axis":{"x":"independent","y":"independent"}}}
  ],
  "columns":2,"bounds":"flush","spacing":{"row":25.5,"column":58},
  "resolve":{"scale":{"color":"independent"},"legend":{"color":"independent"}}},
 {"hconcat":[
   {"width":122,"height":120,"data":{"values":[{}]},"mark":{"type":"point","opacity":0},"encoding":{}},
   {"width":287,"height":120,"data":{"name":"e"},
    "layer":[
     {"mark":{"type":"line","clip":true},
      "encoding":{
       "x":{"field":"t","type":"quantitative","scale":{"domain":[0,50],"nice":false,"zero":false},"axis":{"orient":"bottom","values":[0,10,20,30,40,50],"format":"d","tickSize":-8,"title":"Time (ns)","titleY":43,"titleBaseline":"alphabetic"}},
       "y":{"field":"v","type":"quantitative","scale":{"domain":[7200,8200],"nice":false,"zero":false},"axis":{"orient":"left","values":[7200,7400,7600,7800,8000,8200],"format":"d","tickSize":-8,"title":"SASA (Å²)","titleX":-58,"titleBaseline":"middle","titleAngle":270}},
       "color":{"datum":"Ts-MAPRC2-Mifepristone","type":"nominal","scale":{"range":["#00ff00"]},"legend":{"title":null}}}},
     {"mark":{"type":"line","opacity":0},
      "encoding":{
       "x":{"field":"t","type":"quantitative","axis":{"orient":"top","values":[0,10,20,30,40,50],"tickSize":-8,"labels":false,"title":null}},
       "y":{"field":"v","type":"quantitative","axis":{"orient":"right","values":[7200,7400,7600,7800,8000,8200],"tickSize":-8,"labels":false,"title":null}}}},
     {"mark":{"type":"line","opacity":0},
      "encoding":{
       "x":{"field":"t","type":"quantitative","axis":{"orient":"bottom","values":[5,15,25,35,45],"tickSize":-4.5,"labels":false,"domain":false,"title":null}},
       "y":{"field":"v","type":"quantitative","axis":{"orient":"left","values":[7300,7500,7700,7900,8100],"tickSize":-4.5,"labels":false,"domain":false,"title":null}}}},
     {"mark":{"type":"line","opacity":0},
      "encoding":{
       "x":{"field":"t","type":"quantitative","axis":{"orient":"top","values":[5,15,25,35,45],"tickSize":-4.5,"labels":false,"domain":false,"title":null}},
       "y":{"field":"v","type":"quantitative","axis":{"orient":"right","values":[7300,7500,7700,7900,8100],"tickSize":-4.5,"labels":false,"domain":false,"title":null}}}}
    ],
    "resolve":{"axis":{"x":"independent","y":"independent"}}}
  ],
  "spacing":58,"bounds":"flush",
  "resolve":{"scale":{"color":"independent"},"legend":{"color":"independent"}}}
],
"spacing":15,
"resolve":{"scale":{"color":"independent"},"legend":{"color":"independent"}}
}
